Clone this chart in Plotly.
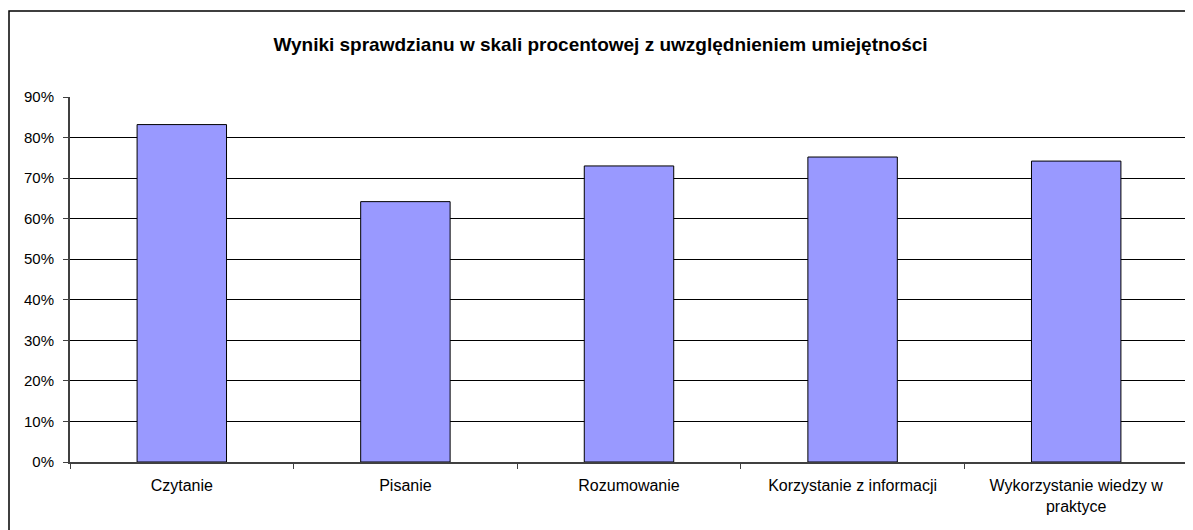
import plotly.graph_objects as go

categories = ["Czytanie", "Pisanie", "Rozumowanie", "Korzystanie z informacji",
              "Wykorzystanie wiedzy w<br>praktyce"]
values = [0.832, 0.642, 0.730, 0.752, 0.742]
y_ticks = [0, 0.1, 0.2, 0.3, 0.4, 0.5, 0.6, 0.7, 0.8, 0.9]
title_text = "Wyniki sprawdzianu w skali procentowej z uwzględnieniem umiejętności"

OFF = 8  # page body margin
W, H = 1193 - OFF, 530 - OFF
L, R, T, B = 70 - OFF, 5, 97 - OFF, 68

fig = go.Figure(go.Bar(
    x=categories, y=values,
    marker=dict(color="#9999FF", line=dict(color="#000000", width=1)),
    width=0.4,
))

font = "Arial, Liberation Sans, sans-serif"
fig.update_layout(
    width=W, height=H,
    margin=dict(l=L, r=R, t=T, b=B),
    paper_bgcolor="white", plot_bgcolor="white",
    showlegend=False,
    font=dict(family=font, size=15, color="black"),
    title=dict(text="<b>" + title_text + "</b>", x=0.5, xanchor="center",
               y=1 - (44 - OFF) / H, yanchor="middle",
               font=dict(size=19, family=font, color="black")),
)
fig.update_yaxes(
    range=[0, 0.9], tickvals=y_ticks, tickformat=".0%",
    showgrid=True, gridcolor="#000000", gridwidth=1,
    showline=True, linecolor="#404040", linewidth=2,
    ticks="outside", ticklen=5, tickcolor="#404040", tickwidth=1,
    ticklabelstandoff=6, zeroline=False,
    tickfont=dict(size=15, family=font, color="black"),
)
fig.update_xaxes(
    showgrid=False, showline=True, linecolor="#404040", linewidth=1.5,
    ticks="outside", ticklen=5, tickcolor="#404040", tickwidth=1,
    tickson="boundaries", ticklabelstandoff=8,
    tickfont=dict(size=16, family=font, color="black"),
)

pw = W - L - R
ph = H - T - B
def px_x(p): return (p - OFF - L) / pw
def px_y(p): return (H - B - (p - OFF)) / ph
fig.add_shape(type="rect", xref="paper", yref="paper",
              x0=px_x(9), x1=px_x(1188), y0=px_y(545), y1=px_y(11),
              line=dict(color="black", width=1.5), fillcolor="rgba(0,0,0,0)", layer="above")

fig.write_html("out.html")
